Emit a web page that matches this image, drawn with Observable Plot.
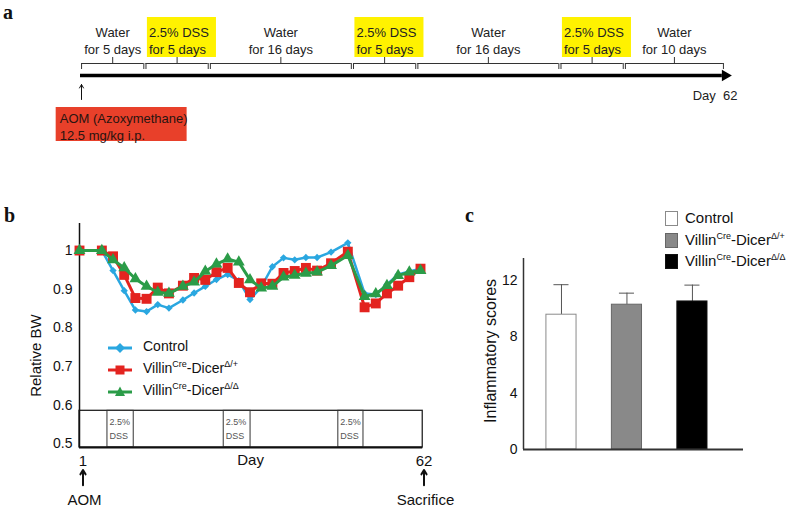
<!DOCTYPE html>
<html><head><meta charset="utf-8">
<script src="https://cdn.jsdelivr.net/npm/d3@7"></script>
<script src="https://cdn.jsdelivr.net/npm/@observablehq/plot@0.6"></script>
<style>
body{margin:0;background:#fff;}
#root{position:relative;width:795px;height:510px;overflow:hidden;font-family:"Liberation Sans",Arial,sans-serif;color:#111;}
#root > svg{position:absolute;left:0;top:0;}
.lab{position:absolute;line-height:18px;white-space:nowrap;}
.lab sup{font-size:9px;vertical-align:0;position:relative;top:-6px;}
.sw{position:absolute;}
.panel{position:absolute;font-family:"Liberation Serif","Times New Roman",serif;font-weight:bold;font-size:20px;line-height:20px;}
</style></head><body><div id="root"></div>
<script>
// ---------- Panel a: treatment schedule ----------
const segLine1 = ["Water","2.5% DSS","Water","2.5% DSS","Water","2.5% DSS","Water"];
const segLine2 = ["for 5 days","for 5 days","for 16 days","for 5 days","for 16 days","for 5 days","for 10 days"];
const segDays  = [5,5,16,5,16,5,10];
const segIsDSS = [false,true,false,true,false,true,false];

// ---------- Panel b: relative body weight ----------
const days     = [1,5,7,9,11,13,15,17,19.5,21.5,23.5,25.5,27.5,29.5,31.5,33.5,35.5,37.5,39.5,41.5,43.5,46,49,52,54,56,58,60,62];
const control  = [1,1,0.948,0.896,0.846,0.842,0.86,0.851,0.872,0.89,0.907,0.925,0.938,0.922,0.873,0.905,0.958,0.981,0.976,0.982,0.982,0.996,1.02,0.889,0.886,0.912,0.938,0.946,0.953];
const dicerHet = [1,1,0.985,0.937,0.877,0.875,0.904,0.889,0.909,0.929,0.924,0.944,0.955,0.916,0.892,0.915,0.914,0.942,0.947,0.955,0.948,0.967,0.997,0.853,0.863,0.889,0.909,0.931,0.953];
const dicerHom = [1,1,0.976,0.955,0.927,0.907,0.892,0.889,0.907,0.918,0.946,0.965,0.978,0.970,0.924,0.903,0.907,0.931,0.936,0.941,0.944,0.961,0.987,0.881,0.888,0.909,0.935,0.944,0.948];
const dssStart = [6.0, 26.8, 47.3];
const dssEnd   = [10.7, 31.6, 51.8];
const bwTicks  = [0.5,0.6,0.7,0.8,0.9,1];
const dayTicks = [1, 62];
const dayNotes = ["AOM", "Sacrifice"];

// ---------- Panel c: inflammatory scores ----------
const groups     = ["Control", "VillinCre-DicerΔ/+", "VillinCre-DicerΔ/Δ"];
const scores     = [9.57, 10.28, 10.51];
const scoreErr   = [2.13, 0.82, 1.16];
const scoreTicks = [0, 4, 8, 12];

const FONT = '"Liberation Sans", Arial, sans-serif';
const root = document.getElementById("root");
const baseStyle = {background:"transparent", fontFamily: FONT, overflow:"visible"};

// ===== Panel a =====
let acc = 0;
const segs = segDays.map((d,i) => {
  const w = d + 4;                 // schematic width
  const s = {x1: acc, x2: acc + w, mid: acc + w/2, l1: segLine1[i], l2: segLine2[i], dss: segIsDSS[i]};
  acc += w; return s;
});
const total = acc;
const dssSegs = segs.filter(d => d.dss), waterSegs = segs.filter(d => !d.dss);
const ends = segs.flatMap(d => [d.x1 + 0.15, d.x2 - 0.15]);

const pa = Plot.plot({
  width: 795, height: 160, margin: 0,
  style: {...baseStyle, fontSize: "13px"},
  x: {domain: [0, total], range: [80, 724], axis: null},
  y: {domain: [0, 160], range: [0, 160], axis: null},
  marks: [
    Plot.rect(dssSegs, {x1: d => d.x1 + 0.35, x2: d => d.x2 + 1, y1: 17, y2: 57, fill: "#fff200"}),
    Plot.text(waterSegs, {x: "mid", y: 32, text: "l1", fill: "#222"}),
    Plot.text(waterSegs, {x: "mid", y: 49, text: "l2", fill: "#222"}),
    Plot.text(dssSegs, {x: "x1", dx: 4, y: 32, text: "l1", textAnchor: "start", fill: "#222"}),
    Plot.text(dssSegs, {x: "x1", dx: 4, y: 49, text: "l2", textAnchor: "start", fill: "#222"}),
    Plot.ruleY(segs, {x1: d => d.x1 + 0.15, x2: d => d.x2 - 0.15, y: 63, stroke: "#333"}),
    Plot.ruleX(ends, {x: d => d, y1: 63, y2: 69, stroke: "#333"}),
    Plot.ruleX(segs, {x: "mid", y1: 57, y2: 63, stroke: "#333"}),
    Plot.ruleY([75], {x1: 0, x2: total - 0.3, strokeWidth: 3.5, stroke: "#000"}),
    Plot.dot([total + 0.1], {x: d => d, y: 75, symbol: "triangle", rotate: 90, r: 4.3, fill: "#000", stroke: "none"}),
    Plot.text(["Day\u00a0\u00a062"], {x: total, dx: 13, y: 95, textAnchor: "end", fill: "#222"}),
    Plot.arrow([0], {x1: 0, x2: 0, dx: 1, y1: 99, y2: 84, headLength: 6, strokeWidth: 1, stroke: "#111"}),
    Plot.rect([0], {x1: -3.4, x2: 14.9, y1: 107, y2: 141, fill: "#e8402a"}),
    Plot.text(["AOM (Azoxymethane)"], {x: -2.9, y: 118, textAnchor: "start", fill: "#2a1410"}),
    Plot.text(["12.5 mg/kg i.p."], {x: -2.9, y: 135, textAnchor: "start", fill: "#2a1410"})
  ]
});
root.appendChild(pa);

// ===== Panel b =====
const seriesDefs = [
  {name: "Control", values: control,  color: "#2aa7e0", symbol: "diamond2", r: 3.3, w: 2.5},
  {name: "Het",     values: dicerHet, color: "#e3231f", symbol: "square",   r: 5.6, w: 3},
  {name: "Hom",     values: dicerHom, color: "#2b9c48", symbol: "triangle", r: 4.4, w: 3}
];
const dssIdx = dssStart.map((_, i) => i);
const lineMarks = seriesDefs.flatMap(s => {
  const rows = days.map((d, i) => ({day: d, v: s.values[i]}));
  return [
    Plot.line(rows, {x: "day", y: "v", stroke: s.color, strokeWidth: s.w}),
    Plot.dot(rows, {x: "day", y: "v", symbol: s.symbol, r: s.r, fill: s.color, stroke: "none"})
  ];
});
const pb = Plot.plot({
  width: 795, height: 510,
  marginLeft: 80, marginRight: 373, marginTop: 223, marginBottom: 63,
  style: {...baseStyle, fontSize: "14px"},
  x: {domain: [1, 62], range: [79, 420], axis: null},
  y: {domain: [0.49, 1.07], ticks: bwTicks, tickSize: 0, tickPadding: 8, tickFormat: d => String(d), label: null},
  marks: [
    Plot.rect([0], {x1: 1, x2: 62.4, y1: 0.49, y2: 0.585, stroke: "#222", strokeWidth: 1.3, fill: "none"}),
    Plot.rect(dssIdx, {x1: i => dssStart[i], x2: i => dssEnd[i], y1: 0.49, y2: 0.585, stroke: "#333", strokeWidth: 1, fill: "none"}),
    Plot.text(dssIdx, {x: i => dssStart[i], y: 0.585, dx: 2, dy: 11, text: () => "2.5%", textAnchor: "start", fontSize: 9, fill: "#555"}),
    Plot.text(dssIdx, {x: i => dssStart[i], y: 0.585, dx: 2, dy: 25, text: () => "DSS", textAnchor: "start", fontSize: 9, fill: "#555"}),
    Plot.ruleX([1], {y1: 0.49, y2: 1.07, strokeWidth: 1.5, stroke: "#111"}),
    Plot.ruleY([0.49], {x1: 1, x2: 62.4, strokeWidth: 2, stroke: "#111"}),
    ...lineMarks,
    Plot.text(dayTicks, {x: d => d, dx: 3.5, y: 0.49, dy: 14, text: d => String(d), fontSize: 15, fill: "#111"}),
    Plot.text(["Day"], {x: 31.6, y: 0.49, dy: 13, fontSize: 15, fill: "#111"}),
    Plot.arrow(dayTicks, {x1: d => d, x2: d => d, dx: 3.5, y1: 0.392, y2: 0.432, headLength: 6, strokeWidth: 2, stroke: "#111"}),
    Plot.text(dayTicks, {x: d => d, dx: 5, y: 0.49, dy: 53, text: (d, i) => dayNotes[i], fontSize: 15, fill: "#111"}),
    Plot.text(["Relative BW"], {x: 1, dx: -43, y: 0.728, rotate: -90, fontSize: 15, fill: "#111"})
  ]
});
root.appendChild(pb);

// ===== Panel c =====
const barFill = ["#ffffff", "#898989", "#000000"];
const barStroke = ["#8a8a8a", "#666666", "#111111"];
const cRows = groups.map((g, i) => ({i, g, v: scores[i], e: scoreErr[i]}));
const pc = Plot.plot({
  width: 795, height: 510,
  marginLeft: 523, marginRight: 52, marginTop: 258, marginBottom: 61,
  style: {...baseStyle, fontSize: "14px"},
  x: {domain: [-0.58, 2.78], axis: null},
  y: {domain: [0, 13.56], ticks: scoreTicks, tickSize: 0, tickPadding: 6, label: null},
  marks: [
    Plot.ruleX(cRows, {x: "i", y1: "v", y2: d => d.v + d.e, stroke: "#555", strokeWidth: 1}),
    Plot.ruleY(cRows, {x1: d => d.i - 0.115, x2: d => d.i + 0.115, y: d => d.v + d.e, stroke: "#555", strokeWidth: 1}),
    Plot.rectY(cRows, {x1: d => d.i - 0.23, x2: d => d.i + 0.23, y: "v", fill: (d, i) => barFill[i], stroke: (d, i) => barStroke[i], strokeWidth: 1}),
    Plot.ruleX([-0.58], {y1: 0, y2: 13.56, stroke: "#333", strokeWidth: 1.5}),
    Plot.ruleY([0], {stroke: "#333", strokeWidth: 2}),
    Plot.text(["Inflammatory scores"], {x: -0.58, dx: -33, y: 7.0, rotate: -90, fontSize: 16, fill: "#111"})
  ]
});
root.appendChild(pc);

// ===== HTML legends & panel letters =====
function addLabel(html, left, centerY, size) {
  const d = document.createElement("div");
  d.className = "lab"; d.innerHTML = html;
  d.style.left = left + "px"; d.style.top = (centerY - 9) + "px"; d.style.fontSize = size + "px";
  root.appendChild(d);
}
function addSwatch(svg, left, top) {
  const d = document.createElement("div");
  d.className = "sw"; d.innerHTML = svg; d.style.left = left + "px"; d.style.top = top + "px";
  root.appendChild(d);
}
const villinHet = "Villin<sup>Cre</sup>-Dicer<sup>Δ/+</sup>";
const villinHom = "Villin<sup>Cre</sup>-Dicer<sup>Δ/Δ</sup>";
// panel b legend
const bLegend = [
  {html: "Control", y: 346, color: "#2aa7e0", shape: '<rect x="8.5" y="2.5" width="7" height="7" transform="rotate(45 12 6)"/>'},
  {html: villinHet, y: 368, color: "#e3231f", shape: '<rect x="7.5" y="1.5" width="9" height="9"/>'},
  {html: villinHom, y: 390, color: "#2b9c48", shape: '<polygon points="12,0.5 17,10 7,10"/>'}
];
bLegend.forEach(r => {
  addSwatch(`<svg width="26" height="12"><line x1="0" x2="24" y1="6" y2="6" stroke="${r.color}" stroke-width="3"/><g fill="${r.color}">${r.shape}</g></svg>`, 108, r.y - 6);
  addLabel(r.html, 143, r.y, 14);
});
// panel c legend
const cLegend = [
  {html: "Control", y: 218},
  {html: villinHet, y: 240},
  {html: villinHom, y: 261}
];
cLegend.forEach((r, i) => {
  addSwatch(`<svg width="14" height="16"><rect x="0.5" y="0.5" width="12" height="14" fill="${barFill[i]}" stroke="${barStroke[i]}"/></svg>`, 665, r.y - 7.5);
  addLabel(r.html, 685, r.y, 15);
});
[["a", 3, 2], ["b", 4, 205], ["c", 465, 205]].forEach(([t, x, y]) => {
  const d = document.createElement("div");
  d.className = "panel"; d.textContent = t; d.style.left = x + "px"; d.style.top = y + "px";
  root.appendChild(d);
});
</script>
</body></html>
